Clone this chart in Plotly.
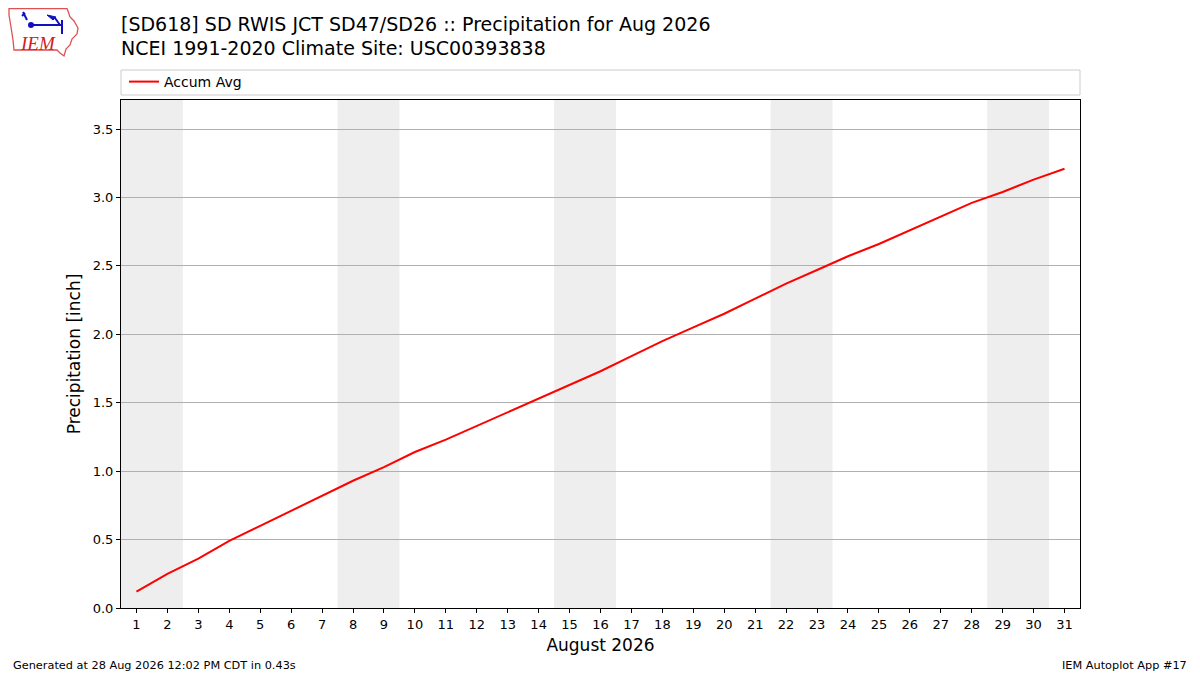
"""
Precipitation accumulation chart (IEM autoplot style).
"""

import datetime
from plotly.graph_objects import Scatter, Figure

# data
days = list(range(1, 32))
accum_avg = [0.12, 0.25, 0.36, 0.49, 0.60, 0.71, 0.82, 0.93, 1.03, 1.14,
             1.23, 1.33, 1.43, 1.53, 1.63, 1.73, 1.84, 1.95, 2.05, 2.15,
             2.26, 2.37, 2.47, 2.57, 2.66, 2.76, 2.86, 2.96, 3.04, 3.13,
             3.21]
ytick_vals = [0.0, 0.5, 1.0, 1.5, 2.0, 2.5, 3.0, 3.5]
year, month = 2026, 8

title1 = "[SD618] SD RWIS JCT SD47/SD26 :: Precipitation for Aug 2026"
title2 = "NCEI 1991-2020 Climate Site: USC00393838"
footer_left = "Generated at 28 Aug 2026 12:02 PM CDT in 0.43s"
footer_right = "IEM Autoplot App #17"

# the page puts the plot 8px in from the top-left corner
OFF = 8
W, H = 1200 - OFF, 675 - OFF
L, R, T, B = 121, 1080, 100, 608
FONT = "DejaVu Sans"


def px(x):
    return (x - L) / (R - L)


def py(y):
    return (B - y) / (B - T)


fig = Figure()

fig.add_trace(Scatter(x=days, y=accum_avg, mode="lines", name="Accum Avg",
                      line=dict(color="red", width=2)))

# weekend shading (sat+sun as one band)
shapes = []
for d in days:
    wd = datetime.date(year, month, d).weekday()
    if wd == 5 or (wd == 6 and d == days[0]):
        end = d + 1 if (wd == 5 and d < days[-1]) else d
        shapes.append(dict(type="rect", xref="x", yref="paper",
                           x0=d - 0.5, x1=end + 0.5, y0=0, y1=1,
                           fillcolor="#eeeeee", line=dict(width=0),
                           layer="below"))

# legend frame
shapes.append(dict(type="rect", xref="paper", yref="paper",
                   x0=px(121), x1=px(1080), y0=py(95), y1=py(70),
                   line=dict(color="#cccccc", width=1)))

# logo (rough)
iowa = [(9, 8.7), (67, 8.7), (68, 11), (70, 17), (74, 21), (78, 28),
        (77, 34), (72, 39), (70, 45), (66, 49), (64, 56), (60, 53), (57, 50),
        (14, 50), (13, 40), (11, 27), (9, 15)]
path = "M " + " L ".join(f"{px(a):.5f},{py(b):.5f}" for a, b in iowa) + " Z"
shapes.append(dict(type="path", xref="paper", yref="paper", path=path,
                   line=dict(color="#e05050", width=1.3)))
flag = [(47, 15), (56, 17), (53, 20)]
path = "M " + " L ".join(f"{px(a):.5f},{py(b):.5f}" for a, b in flag) + " Z"
shapes.append(dict(type="path", xref="paper", yref="paper", path=path,
                   fillcolor="#1010c0", line=dict(color="#1010c0", width=1)))
for (a0, b0, a1, b1) in [(31, 25, 62, 25), (62, 20, 62, 34), (55, 18, 60, 25),
                         (23, 12, 27, 20), (22, 16, 25, 13)]:
    shapes.append(dict(type="line", xref="paper", yref="paper",
                       x0=px(a0), y0=py(b0), x1=px(a1), y1=py(b1),
                       line=dict(color="#1010c0", width=2)))
shapes.append(dict(type="circle", xref="paper", yref="paper",
                   x0=px(28), x1=px(34), y0=py(28), y1=py(22),
                   fillcolor="#1010c0", line=dict(width=0)))

annotations = [
    dict(text="<i>IEM</i>", xref="paper", yref="paper", x=px(38), y=py(44),
         showarrow=False, font=dict(family="Liberation Serif", size=19,
                                    color="#d02020"),
         xanchor="center", yanchor="middle"),
    dict(text=title1, xref="paper", yref="paper", x=px(119), y=py(24),
         showarrow=False, xanchor="left", yanchor="middle",
         font=dict(family=FONT, size=19, color="black")),
    dict(text=title2, xref="paper", yref="paper", x=px(119), y=py(48),
         showarrow=False, xanchor="left", yanchor="middle",
         font=dict(family=FONT, size=19, color="black")),
    dict(text=footer_left, xref="paper", yref="paper", x=px(11), y=py(665),
         showarrow=False, xanchor="left", yanchor="middle",
         font=dict(family=FONT, size=11.3, color="black")),
    dict(text=footer_right, xref="paper", yref="paper", x=px(1189), y=py(665),
         showarrow=False, xanchor="right", yanchor="middle",
         font=dict(family=FONT, size=11.3, color="black")),
]

fig.update_layout(
    width=W, height=H,
    margin=dict(l=L - OFF, r=1200 - R, t=T - OFF, b=675 - B),
    paper_bgcolor="white", plot_bgcolor="white",
    font=dict(family=FONT, size=13, color="black"),
    showlegend=True,
    legend=dict(x=px(124), y=py(82), xanchor="left", yanchor="middle",
                bgcolor="rgba(0,0,0,0)", font=dict(size=14)),
    shapes=shapes, annotations=annotations,
    xaxis=dict(range=[0.5, 31.5], tickmode="array", tickvals=days,
               showgrid=False, zeroline=False, showline=True, mirror=True,
               linecolor="black", linewidth=1, ticks="outside", ticklen=4,
               tickcolor="black",
               title=dict(text="August 2026", font=dict(size=17), standoff=8)),
    yaxis=dict(range=[0, 3.712], tickmode="array", tickvals=ytick_vals,
               tickformat=".1f", showgrid=True, gridcolor="#b0b0b0",
               zeroline=False, showline=True, mirror=True, linecolor="black",
               linewidth=1, ticks="outside", ticklen=4, tickcolor="black",
               title=dict(text="Precipitation [inch]", font=dict(size=17),
                          standoff=7)),
)

fig.write_html("out.html")
